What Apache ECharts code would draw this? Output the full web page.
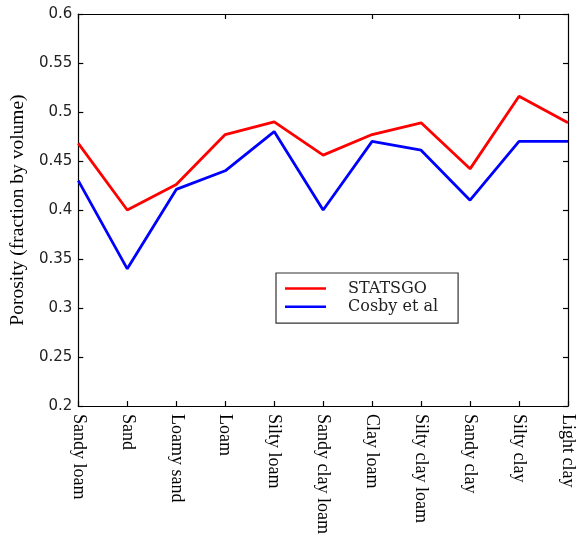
<!DOCTYPE html>
<html><head><meta charset="utf-8">
<script src="https://cdn.jsdelivr.net/npm/echarts@6/dist/echarts.min.js"></script>
<style>html,body{margin:0;padding:0;background:#fff}#c{width:577px;height:537px}</style>
</head><body><div id="c"></div>
<script>
const categories = ['Sandy loam','Sand','Loamy sand','Loam','Silty loam','Sandy clay loam','Clay loam','Silty clay loam','Sandy clay','Silty clay','Light clay'];
const statsgo = [0.468, 0.400, 0.426, 0.477, 0.490, 0.456, 0.477, 0.489, 0.442, 0.516, 0.489];
const cosby = [0.430, 0.340, 0.421, 0.440, 0.480, 0.400, 0.470, 0.461, 0.410, 0.470, 0.470];
const yTicks = {min: 0.2, max: 0.6, interval: 0.05};

const chart = echarts.init(document.getElementById('c'), null, {renderer: 'canvas'});
const axisLine = {show: true, lineStyle: {color: '#000', width: 1.2}};
const tickIn = {show: true, inside: true, length: 5, lineStyle: {color: '#000', width: 1.2}};
chart.setOption({
  animation: false,
  backgroundColor: '#fff',
  grid: {left: 76, right: 3, top: 14, bottom: 130, containLabel: false},
  legend: {
    orient: 'vertical', left: 276, top: 273,
    data: [{name: 'STATSGO', icon: 'rect'}, {name: 'Cosby et al', icon: 'rect'}],
    itemWidth: 41, itemHeight: 2.5, itemGap: 1.2,
    borderColor: '#333', borderWidth: 1.2, borderRadius: 0,
    padding: [7, 20, 8, 9],
    backgroundColor: '#fff',
    textStyle: {fontFamily: 'DejaVu Serif', fontSize: 16, color: '#222', lineHeight: 17, padding: [0, 0, 0, 17]}
  },
  xAxis: [
    {type: 'category', data: categories, boundaryGap: false, position: 'bottom',
     axisLine: axisLine, axisTick: tickIn,
     axisLabel: {rotate: -90, interval: 0, margin: 8, fontFamily: 'Liberation Serif', fontSize: 18, color: '#000'},
     splitLine: {show: false}},
    {type: 'category', data: categories, boundaryGap: false, position: 'top',
     axisLine: axisLine, axisTick: tickIn, axisLabel: {show: false}, splitLine: {show: false}}
  ],
  yAxis: [
    {type: 'value', min: yTicks.min, max: yTicks.max, interval: yTicks.interval, position: 'left',
     axisLine: axisLine, axisTick: tickIn, splitLine: {show: false},
     axisLabel: {margin: 6, fontFamily: 'DejaVu Sans', fontSize: 15, color: '#222'},
     name: 'Porosity (fraction by volume)', nameLocation: 'middle', nameGap: 47,
     nameTextStyle: {fontFamily: 'Liberation Serif', fontSize: 19.5, color: '#000'}},
    {type: 'value', min: yTicks.min, max: yTicks.max, interval: yTicks.interval, position: 'right',
     axisLine: axisLine, axisTick: tickIn, axisLabel: {show: false}, splitLine: {show: false}}
  ],
  series: [
    {name: 'STATSGO', type: 'line', data: statsgo, symbol: 'none', color: '#ff0000',
     lineStyle: {color: '#ff0000', width: 2.8}, z: 3},
    {name: 'Cosby et al', type: 'line', data: cosby, symbol: 'none', color: '#0000ff',
     lineStyle: {color: '#0000ff', width: 2.8}, z: 3}
  ]
});
</script></body></html>
